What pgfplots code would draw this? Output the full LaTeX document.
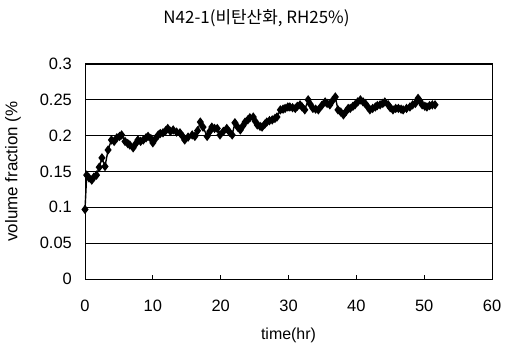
\documentclass[border=0pt]{standalone}
\usepackage{pgfplots}
\pgfplotsset{compat=1.18}
\usepackage{fontspec}
\setmainfont{Liberation Sans}
\newfontfamily\kr{Noto Sans CJK KR}
\pgfplotstableread{
x y
0 0.097
0.25 0.145
0.6 0.141
1.0 0.138
1.3 0.142
1.7 0.145
2.1 0.156
2.5 0.169
2.95 0.157
3.4 0.180
3.9 0.194
4.3 0.192
4.7 0.197
5.1 0.199
5.4 0.201
5.9 0.192
6.3 0.189
6.6 0.187
7.1 0.183
7.5 0.189
7.8 0.194
8.2 0.192
8.6 0.194
9.0 0.197
9.3 0.199
9.7 0.196
10.0 0.190
10.4 0.196
10.8 0.201
11.1 0.203
11.5 0.204
11.9 0.207
12.2 0.210
12.6 0.206
13.0 0.208
13.5 0.205
14.0 0.204
14.4 0.199
14.7 0.194
15.2 0.198
15.8 0.201
16.2 0.199
16.6 0.207
17.0 0.219
17.4 0.212
18.0 0.199
18.4 0.206
18.7 0.212
19.1 0.210
19.5 0.210
19.9 0.201
20.4 0.206
20.9 0.210
21.3 0.205
21.7 0.201
22.1 0.218
22.5 0.212
22.9 0.208
23.3 0.214
23.6 0.219
24.0 0.222
24.3 0.225
24.8 0.226
25.1 0.220
25.4 0.215
25.8 0.213
26.1 0.212
26.5 0.216
26.8 0.219
27.2 0.221
27.6 0.222
28.0 0.224
28.3 0.226
28.8 0.236
29.2 0.237
29.5 0.238
29.9 0.240
30.2 0.240
30.6 0.239
31.0 0.238
31.3 0.241
31.7 0.243
32.0 0.240
32.4 0.236
32.9 0.250
33.2 0.244
33.6 0.238
34.0 0.237
34.4 0.236
34.9 0.242
35.4 0.247
35.7 0.245
36.1 0.243
36.5 0.249
36.9 0.254
37.3 0.236
37.7 0.233
38.1 0.229
38.5 0.234
38.8 0.238
39.1 0.238
39.5 0.241
39.8 0.243
40.2 0.247
40.6 0.250
41.0 0.247
41.3 0.245
41.7 0.240
42.0 0.236
42.4 0.238
42.8 0.240
43.1 0.242
43.5 0.243
43.9 0.245
44.2 0.247
44.7 0.243
45.0 0.239
45.4 0.236
45.8 0.238
46.2 0.238
46.6 0.237
46.9 0.236
47.4 0.238
47.9 0.240
48.3 0.243
48.7 0.245
49.1 0.252
49.4 0.248
49.7 0.243
50.1 0.241
50.4 0.240
50.8 0.242
51.2 0.243
51.6 0.243
}\datatable
\begin{document}
\begin{tikzpicture}
\begin{axis}[
  scale only axis,
  width=407bp, height=215bp,
  xmin=0, xmax=60, ymin=0, ymax=0.3,
  xtick={0,10,...,60},
  ytick={0,0.05,...,0.3},
  yticklabel style={/pgf/number format/fixed, /pgf/number format/precision=2, inner sep=0pt, xshift=-13bp},
  xticklabel style={inner sep=0pt, yshift=-21bp},
  /pgf/number format/assume math mode=true,
  ymajorgrids,
  grid style={black, line width=0.7pt},
  axis line style={black, line width=1pt},
  tick align=inside,
  tick pos=left,
  major tick length=4bp,
  tick style={black, line width=0.8pt},
  ticklabel style={font=\fontsize{16.5}{18}\selectfont},
  clip=false,
]
\addplot[black, line width=1.4pt, mark=diamond*, mark size=3.6pt, mark options={fill=black}] table[x=x,y=y] {\datatable};
\node[font=\fontsize{16}{18}\selectfont] at ([yshift=-56bp]rel axis cs:0.5,0) {time(hr)};
\node[rotate=90, font=\fontsize{17}{19}\selectfont] at ([xshift=-72bp]rel axis cs:0,0.5) {volume fraction (\%};
\node[font=\kr\fontsize{17}{19}\selectfont] at ([xshift=-32bp,yshift=46bp]rel axis cs:0.5,1) {N42-1(비탄산화, RH25\%)};
\path ([xshift=-85bp,yshift=-66bp]rel axis cs:0,0) rectangle ([xshift=22bp,yshift=64bp]rel axis cs:1,1);
\end{axis}
\end{tikzpicture}
\end{document}
